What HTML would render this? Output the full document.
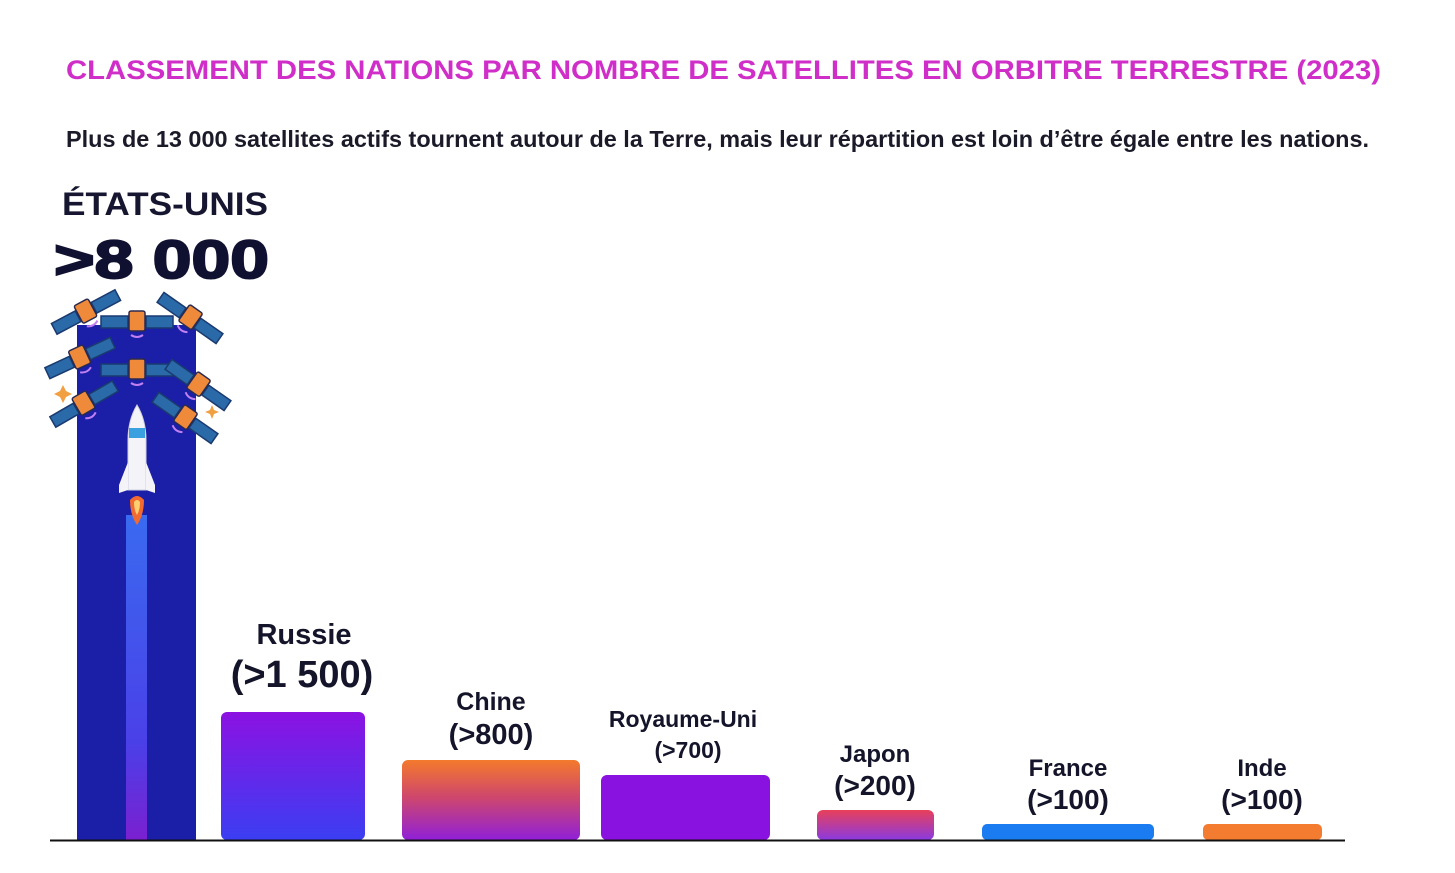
<!DOCTYPE html>
<html><head><meta charset="utf-8"><style>
html,body{margin:0;padding:0;background:#fff;}
svg{display:block;}
</style></head><body>
<svg width="1455" height="873" viewBox="0 0 1455 873" xmlns="http://www.w3.org/2000/svg">
<defs>
<linearGradient id="gRus" x1="0" y1="0" x2="0" y2="1"><stop offset="0" stop-color="#8c12e2"/><stop offset="1" stop-color="#3b3ef2"/></linearGradient>
<linearGradient id="gChi" x1="0" y1="0" x2="0" y2="1"><stop offset="0" stop-color="#f47a2c"/><stop offset="0.45" stop-color="#d0486a"/><stop offset="1" stop-color="#9020d8"/></linearGradient>
<linearGradient id="gJap" x1="0" y1="0" x2="0" y2="1"><stop offset="0" stop-color="#e8405a"/><stop offset="1" stop-color="#8a3ae0"/></linearGradient>
<linearGradient id="gTrail" x1="0" y1="0" x2="0" y2="1"><stop offset="0" stop-color="#3a6af0"/><stop offset="0.7" stop-color="#4a40e8"/><stop offset="1" stop-color="#7a20d0"/></linearGradient>
<g id="sat">
<rect x="-36" y="-6" width="27" height="12" fill="#2a6aa8" stroke="#1a3a70" stroke-width="1.5"/>
<rect x="9" y="-6" width="27" height="12" fill="#2a6aa8" stroke="#1a3a70" stroke-width="1.5"/>
<rect x="-8" y="-11" width="16" height="20" rx="2" fill="#ef8a3a" stroke="#2a2a50" stroke-width="1.5"/>
<path d="M-6 13 Q0 17 6 13" stroke="#c080f0" stroke-width="2" fill="none"/>
</g>
</defs>

<text x="66" y="79" font-family="Liberation Sans, sans-serif" font-weight="bold" font-size="27" fill="#d02ec8" textLength="1315" lengthAdjust="spacingAndGlyphs">CLASSEMENT DES NATIONS PAR NOMBRE DE SATELLITES EN ORBITRE TERRESTRE (2023)</text>
<text x="66" y="147" font-family="Liberation Sans, sans-serif" font-weight="bold" font-size="23" fill="#1a1a28" textLength="1303" lengthAdjust="spacingAndGlyphs">Plus de 13 000 satellites actifs tournent autour de la Terre, mais  leur répartition est loin d’être égale entre les nations.</text>

<text x="62" y="215" font-family="Liberation Sans, sans-serif" font-weight="bold" font-size="32" fill="#161630" textLength="206" lengthAdjust="spacingAndGlyphs">ÉTATS-UNIS</text>
<text x="54" y="278" font-family="Liberation Sans, sans-serif" font-weight="bold" font-size="54" fill="#101030" stroke="#101030" stroke-width="2" textLength="215" lengthAdjust="spacingAndGlyphs">&gt;8 000</text>

<rect x="77" y="325" width="119" height="515" fill="#1b1ea6"/>
<rect x="126" y="515" width="21" height="325" fill="url(#gTrail)"/>
<use href="#sat" transform="translate(137,322)"/>
<use href="#sat" transform="translate(137,370)"/>
<use href="#sat" transform="translate(86,312) rotate(-28)"/>
<use href="#sat" transform="translate(190,318) rotate(35)"/>
<use href="#sat" transform="translate(80,358) rotate(-25)"/>
<use href="#sat" transform="translate(198,385) rotate(35)"/>
<use href="#sat" transform="translate(84,404) rotate(-30)"/>
<use href="#sat" transform="translate(185,418) rotate(35)"/>
<path d="M63 385 l3 6 6 3 -6 3 -3 6 -3 -6 -6 -3 6 -3z" fill="#f0a040"/>
<path d="M212 405 l2 5 5 2 -5 2 -2 5 -2 -5 -5 -2 5 -2z" fill="#f0a040"/>
<path d="M137 405 Q146 420 146 440 L146 490 L128 490 L128 440 Q128 420 137 405Z" fill="#f4f4f8" stroke="#d0d0e0"/>
<rect x="129" y="428" width="16" height="10" fill="#3aa0e0"/>
<path d="M128 462 L119 485 L119 493 L128 490Z" fill="#f4f4f8"/>
<path d="M146 462 L155 485 L155 493 L146 490Z" fill="#f4f4f8"/>
<path d="M130 500 Q137 492 144 500 Q144 515 137 525 Q130 515 130 500Z" fill="#f26a30"/>
<path d="M134 502 Q137 498 140 502 Q140 510 137 515 Q134 510 134 502Z" fill="#ffd070"/>

<rect x="221" y="712" width="144" height="128" rx="6" fill="url(#gRus)"/>
<rect x="402" y="760" width="178" height="80" rx="6" fill="url(#gChi)"/>
<rect x="601" y="775" width="169" height="65" rx="6" fill="#8a12e0"/>
<rect x="817" y="810" width="117" height="30" rx="6" fill="url(#gJap)"/>
<rect x="982" y="824" width="172" height="16" rx="5" fill="#1a7cf0"/>
<rect x="1203" y="824" width="119" height="16" rx="5" fill="#f47c30"/>

<line x1="50" y1="840.5" x2="1345" y2="840.5" stroke="#111" stroke-width="2"/>

<g font-family="Liberation Sans, sans-serif" font-weight="bold" fill="#14142a" text-anchor="middle">
<text x="304" y="644" font-size="29">Russie</text>
<text x="302" y="687" font-size="38">(&gt;1 500)</text>
<text x="491" y="710" font-size="25">Chine</text>
<text x="491" y="744" font-size="29">(&gt;800)</text>
<text x="683" y="727" font-size="23">Royaume-Uni</text>
<text x="688" y="758" font-size="23">(&gt;700)</text>
<text x="875" y="762" font-size="24">Japon</text>
<text x="875" y="795" font-size="28">(&gt;200)</text>
<text x="1068" y="776" font-size="24">France</text>
<text x="1068" y="809" font-size="28">(&gt;100)</text>
<text x="1262" y="776" font-size="24">Inde</text>
<text x="1262" y="809" font-size="28">(&gt;100)</text>
</g>
</svg>
</body></html>
